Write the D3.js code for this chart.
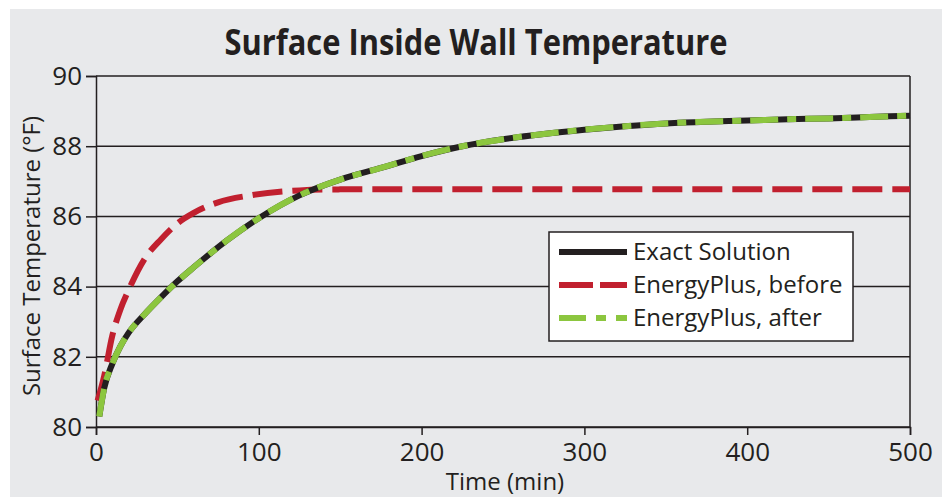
<!DOCTYPE html>
<html>
<head>
<meta charset="utf-8">
<script src="https://cdn.jsdelivr.net/npm/d3@7"></script>
<style>
  body { margin: 0; background: #fff; }
  text { font-family: "Open Sans", "DejaVu Sans", sans-serif; fill: #231f20; }
</style>
</head>
<body>
<div id="chart"></div>
<script>
// values
var timeExact = [2, 5, 10, 15, 20, 30, 40, 50, 60, 80, 100, 125, 150, 175, 200, 225, 250, 275, 300, 325, 350, 375, 400, 425, 450, 475, 500];
var exactTemp = [80.3, 81.1, 81.8, 82.3, 82.68, 83.22, 83.7, 84.15, 84.55, 85.3, 85.95, 86.6, 87.05, 87.38, 87.72, 88.0, 88.2, 88.35, 88.47, 88.57, 88.65, 88.7, 88.73, 88.77, 88.79, 88.83, 88.87];
var timeBefore = [1, 5, 10, 15, 20, 30, 40, 50, 60, 75, 95, 125, 150, 200, 300, 400, 500];
var beforeTemp = [80.75, 81.45, 82.6, 83.35, 83.9, 84.8, 85.35, 85.8, 86.1, 86.4, 86.6, 86.74, 86.77, 86.77, 86.77, 86.77, 86.77];
// "after" lies right on top of the exact solution
var afterTemp = exactTemp.slice();

var xTicks = [0, 100, 200, 300, 400, 500];
var yTicks = [80, 82, 84, 86, 88, 90];
var legendKeys = ["Exact Solution", "EnergyPlus, before", "EnergyPlus, after"];

var svgWidth = 942;
var svgHeight = 497;

var svg = d3.select("#chart")
  .append("svg")
  .attr("width", svgWidth)
  .attr("height", svgHeight);

// grey panel
svg.append("rect")
  .attr("x", 10)
  .attr("y", 9)
  .attr("width", svgWidth - 10)
  .attr("height", svgHeight - 9)
  .attr("fill", "#e8e9eb");

var xScale = d3.scaleLinear().domain([0, 500]).range([96, 910]);
var yScale = d3.scaleLinear().domain([80, 90]).range([427, 76]);

// horizontal grid lines
svg.append("g")
  .selectAll("line")
  .data(yTicks)
  .enter()
  .append("line")
  .attr("x1", xScale(0))
  .attr("x2", xScale(500))
  .attr("y1", d => yScale(d))
  .attr("y2", d => yScale(d))
  .attr("stroke", "#231f20")
  .attr("stroke-width", 1.5);

// right border
svg.append("line")
  .attr("x1", xScale(500)).attr("x2", xScale(500))
  .attr("y1", yScale(80)).attr("y2", yScale(90))
  .attr("stroke", "#231f20")
  .attr("stroke-width", 1.5);

var leftAxis = d3.axisLeft(yScale).tickValues(yTicks).tickSize(10).tickPadding(4);
var bottomAxis = d3.axisBottom(xScale).tickValues(xTicks).tickSize(8).tickPadding(8);

var yAxisG = svg.append("g")
  .attr("transform", `translate(${xScale(0)},0)`)
  .call(leftAxis);

var xAxisG = svg.append("g")
  .attr("transform", `translate(0,${yScale(80)})`)
  .call(bottomAxis);

[yAxisG, xAxisG].forEach(function(g) {
  g.select(".domain").attr("stroke", "#231f20").attr("stroke-width", 1.5);
  g.selectAll(".tick line").attr("stroke", "#231f20").attr("stroke-width", 1.5);
  g.selectAll(".tick text")
    .attr("fill", "#231f20")
    .style("font-family", "'Open Sans', sans-serif")
    .style("font-size", "26px");
});

var line = d3.line()
  .x(d => xScale(d[0]))
  .y(d => yScale(d[1]))
  .curve(d3.curveMonotoneX);

var exactData = d3.zip(timeExact, exactTemp);
var beforeData = d3.zip(timeBefore, beforeTemp);
var afterData = d3.zip(timeExact, afterTemp);

svg.append("path")
  .datum(beforeData)
  .attr("d", line)
  .attr("fill", "none")
  .attr("stroke", "#c1202f")
  .attr("stroke-width", 6)
  .attr("stroke-dasharray", "30 10");

svg.append("path")
  .datum(exactData)
  .attr("d", line)
  .attr("fill", "none")
  .attr("stroke", "#231f20")
  .attr("stroke-width", 6);

svg.append("path")
  .datum(afterData)
  .attr("d", line)
  .attr("fill", "none")
  .attr("stroke", "#8cc63f")
  .attr("stroke-width", 6)
  .attr("stroke-dasharray", "28 9 9 9");

// title
svg.append("text")
  .attr("x", 476)
  .attr("y", 55)
  .attr("text-anchor", "middle")
  .attr("textLength", 503)
  .attr("lengthAdjust", "spacingAndGlyphs")
  .style("font-size", "36px")
  .style("font-weight", "bold")
  .text("Surface Inside Wall Temperature");

// axis titles
svg.append("text")
  .attr("x", 505)
  .attr("y", 490)
  .attr("text-anchor", "middle")
  .style("font-size", "24px")
  .text("Time (min)");

svg.append("text")
  .attr("transform", "translate(40,256) rotate(-90)")
  .attr("text-anchor", "middle")
  .style("font-size", "24px")
  .text("Surface Temperature (°F)");

// legend
var legendStyles = [
  { color: "#231f20", dash: null },
  { color: "#c1202f", dash: "34 7" },
  { color: "#8cc63f", dash: "27 10 10 10" }
];

svg.append("rect")
  .attr("x", 549)
  .attr("y", 232)
  .attr("width", 304)
  .attr("height", 109)
  .attr("fill", "#ffffff")
  .attr("stroke", "#231f20")
  .attr("stroke-width", 1.5);

var lineLegend = svg.selectAll(".lineLegend").data(legendKeys)
  .enter().append("g")
  .attr("class", "lineLegend")
  .attr("transform", (d, i) => `translate(559,${252 + i * 33})`);

lineLegend.append("line")
  .attr("x1", 0)
  .attr("x2", 68)
  .attr("stroke", (d, i) => legendStyles[i].color)
  .attr("stroke-width", 6)
  .attr("stroke-dasharray", (d, i) => legendStyles[i].dash);

lineLegend.append("text")
  .attr("x", 74)
  .attr("y", 8)
  .style("font-size", "24px")
  .text(d => d);
</script>
</body>
</html>
